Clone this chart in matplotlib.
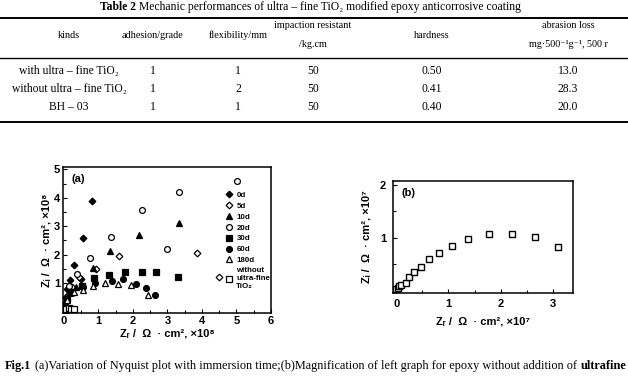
import matplotlib
matplotlib.use("Agg")
import matplotlib.pyplot as plt
from matplotlib.lines import Line2D
from matplotlib.ticker import MultipleLocator

W, H = 628, 378
SERIF = ['Liberation Serif', 'DejaVu Serif']
SANS = ['Liberation Sans', 'DejaVu Sans']

# ---- table data ----
table_title = "Mechanic performances of ultra \u2013 fine TiO\u2082 modified epoxy anticorrosive coating"
table_head = ["kinds", "adhesion/grade", "flexibility/mm",
              "impaction resistant\n/kg.cm", "hardness", "abrasion loss\nmg\u00b7500\u207b\u00b9g\u207b\u00b9, 500 r"]
row_kinds = ["with ultra \u2013 fine TiO\u2082", "without ultra \u2013 fine TiO\u2082", "BH \u2013 03"]
adhesion = ["1", "1", "1"]
flexibility = ["1", "2", "1"]
impaction = ["50", "50", "50"]
hardness = ["0.50", "0.41", "0.40"]
abrasion = ["13.0", "28.3", "20.0"]

# ---- Nyquist data (a), x10^8 ----
d0_x = [0.02, 0.06, 0.1, 0.18, 0.31, 0.5, 0.55, 0.82]
d0_y = [0.2, 0.5, 0.78, 1.1, 1.65, 1.14, 2.6, 3.88]
d5_x = [0.05, 0.12, 0.25, 0.45, 0.94, 1.59, 3.86, 4.5]
d5_y = [0.3, 0.6, 0.85, 1.22, 1.5, 1.96, 2.07, 1.21]
d10_x = [0.04, 0.1, 0.2, 0.35, 0.84, 1.35, 2.17, 3.35]
d10_y = [0.25, 0.5, 0.72, 0.85, 1.54, 2.14, 2.69, 3.1]
d20_x = [0.05, 0.15, 0.39, 0.77, 1.37, 2.27, 3.0, 3.35, 5.03]
d20_y = [0.4, 0.91, 1.32, 1.89, 2.61, 3.57, 2.19, 4.21, 4.58]
d30_x = [0.03, 0.1, 0.2, 0.53, 0.87, 1.3, 1.78, 2.28, 2.67, 3.3]
d30_y = [0.2, 0.45, 0.7, 0.91, 1.17, 1.3, 1.38, 1.38, 1.4, 1.23]
d60_x = [0.03, 0.1, 0.25, 0.55, 0.92, 1.4, 1.73, 2.1, 2.39, 2.65]
d60_y = [0.15, 0.4, 0.65, 0.85, 1.0, 1.09, 1.14, 0.97, 0.82, 0.59]
d180_x = [0.03, 0.1, 0.3, 0.56, 0.84, 1.19, 1.56, 1.95, 2.43]
d180_y = [0.15, 0.4, 0.68, 0.77, 0.9, 0.99, 0.98, 0.94, 0.59]
wo_x = [0.0, 0.01, 0.02, 0.03, 0.05, 0.08, 0.14, 0.22, 0.31]
wo_y = [0.0, 0.02, 0.04, 0.06, 0.08, 0.1, 0.11, 0.1, 0.08]

# ---- magnified data (b), x10^7 ----
b_x = [0.0, 0.03, 0.06, 0.1, 0.19, 0.25, 0.34, 0.48, 0.63, 0.82, 1.06, 1.38, 1.78, 2.22, 2.65, 3.1]
b_y = [0.02, 0.05, 0.08, 0.1, 0.14, 0.26, 0.34, 0.45, 0.59, 0.7, 0.84, 0.98, 1.06, 1.06, 1.01, 0.82]


def fx(x):
    return x / W


def fy(y):
    return 1 - y / H


fig = plt.figure(figsize=(W / 100, H / 100), dpi=100)
fig.patch.set_facecolor('white')
renderer = fig.canvas.get_renderer()


def run_text(x0, y, parts, size, gap=3):
    # a line of serif text made of (text, weight) pieces set one after another
    x = x0
    for s, wt in parts:
        t = fig.text(fx(x), fy(y), s, family=SERIF, weight=wt, size=size, va='center', ha='left')
        x += t.get_window_extent(renderer).width + gap


# ---- table ----
run_text(100, 7, [("Table 2", 'bold'), (table_title, 'normal')], 8.4)
for y, lw in [(18, 1.4), (58, 1.0), (122, 1.4)]:
    fig.add_artist(Line2D([0, 1], [fy(y), fy(y)], color='black', lw=lw, transform=fig.transFigure))

col_x = [69, 153, 238, 313, 432, 568]
for cx, head in zip(col_x, table_head):
    fig.text(fx(cx), fy(35), head, family=SERIF, size=7.3, ha='center', va='center', linespacing=2.3)
row_y = [71, 89, 107]
for i, ry in enumerate(row_y):
    vals = [row_kinds[i], adhesion[i], flexibility[i], impaction[i], hardness[i], abrasion[i]]
    for cx, v in zip(col_x, vals):
        fig.text(fx(cx), fy(ry), v, family=SERIF, size=8.4, ha='center', va='center')

# ---- plot (a) ----
ax = fig.add_axes([fx(63), fy(313), (271 - 63) / W, (313 - 167) / H])
ms = 4.2
series = [
    (d0_x, d0_y, 'D', 'black', '0d', 3.4),
    (d5_x, d5_y, 'D', 'white', '5d', 3.4),
    (d10_x, d10_y, '^', 'black', '10d', ms),
    (d20_x, d20_y, 'o', 'white', '20d', ms),
    (d30_x, d30_y, 's', 'black', '30d', ms),
    (d60_x, d60_y, 'o', 'black', '60d', ms),
    (d180_x, d180_y, '^', 'white', '180d', ms),
    (wo_x, wo_y, 's', 'white', 'without\nultra-fine\nTiO\u2082', ms),
]
for xs, ys, m, fc, lab, s in series:
    ax.plot(xs, ys, ls='none', marker=m, mfc=fc, mec='black', mew=0.9, ms=s, label=lab)

ax.set_xlim(-0.02, 6.0)
ax.set_ylim(-0.05, 5.08)
ax.set_xticks([0, 1, 2, 3, 4, 5, 6])
ax.set_yticks([1, 2, 3, 4, 5])
ax.text(0.04, 0.95, "(a)", transform=ax.transAxes, family=SANS, weight='bold', size=8, va='top')
ax.set_xlabel("Z\u1d63 /  \u03a9  \u00b7 cm\u00b2, \u00d710\u2078", family=SANS, weight='bold', size=8, labelpad=2)
ax.set_ylabel("Z\u1d62 /  \u03a9  \u00b7 cm\u00b2, \u00d710\u2078", family=SANS, weight='bold', size=8, labelpad=2)
ax.legend(loc='upper left', bbox_to_anchor=(0.765, 0.86), frameon=False,
          prop={'family': SANS, 'weight': 'bold', 'size': 5.7},
          handlelength=0.8, handletextpad=0.5, labelspacing=0.42, borderpad=0)

# ---- plot (b) ----
bx = fig.add_axes([fx(393), fy(293), (573 - 393) / W, (293 - 181) / H])
bx.plot(b_x, b_y, ls='none', marker='s', mfc='white', mec='black', mew=1.0, ms=5)
bx.set_xlim(-0.06, 3.38)
bx.set_ylim(-0.05, 2.07)
bx.set_xticks([0, 1, 2, 3])
bx.set_yticks([1, 2])
bx.text(0.05, 0.94, "(b)", transform=bx.transAxes, family=SANS, weight='bold', size=8, va='top')
bx.set_xlabel("Z\u1d63 /  \u03a9  \u00b7 cm\u00b2, \u00d710\u2077", family=SANS, weight='bold', size=8, labelpad=6)
bx.set_ylabel("Z\u1d62 /  \u03a9  \u00b7 cm\u00b2, \u00d710\u2077", family=SANS, weight='bold', size=8, labelpad=6)

for a in (ax, bx):
    for sp in a.spines.values():
        sp.set_linewidth(1.1)
    a.xaxis.set_minor_locator(MultipleLocator(0.5))
    a.yaxis.set_minor_locator(MultipleLocator(0.5))
    a.tick_params(which='both', direction='in', width=0.8)
    a.tick_params(which='major', length=3, labelsize=8, pad=2)
    a.tick_params(which='minor', length=2)
    for t in a.get_xticklabels() + a.get_yticklabels():
        t.set_fontweight('bold')
        t.set_family(SANS)
bx.tick_params(axis='x', which='major', pad=4)
bx.tick_params(axis='y', which='major', pad=5)

# ---- caption ----
run_text(5, 366, [("Fig.1", 'bold'),
                  ("(a)Variation of Nyquist plot with immersion time;(b)Magnification of left graph for epoxy without addition of", 'normal'),
                  ("ultrafine", 'bold')], 8.8, gap=4)

fig.savefig("out.png", dpi=100)
